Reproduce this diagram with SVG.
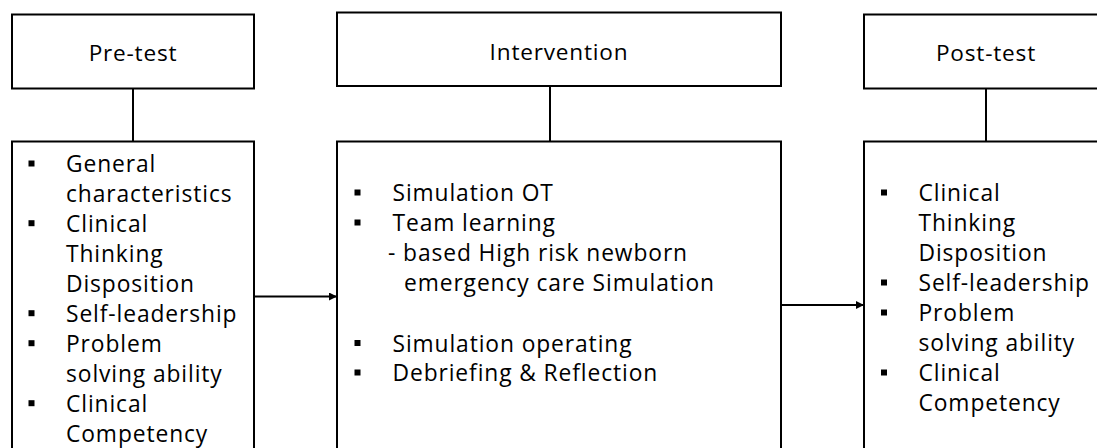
<svg xmlns="http://www.w3.org/2000/svg" width="1097" height="448" viewBox="0 0 1097 448">
  <defs>
    <style>
      .box { fill: #ffffff; stroke: #000000; stroke-width: 2; }
      .link { fill: none; stroke: #000000; stroke-width: 2; }
      .title { font-family: "Open Sans", "Liberation Sans", sans-serif; font-size: 22.6px; letter-spacing: 0.8px; fill: #000000; text-anchor: middle; }
      .item { font-family: "Open Sans", "Liberation Sans", sans-serif; font-size: 22.8px; letter-spacing: 0.9px; fill: #000000; }
      .dot { fill: #000000; }
    </style>
    <rect id="sq" class="dot" x="-3" y="-11.5" width="6" height="6"/>
    <marker id="arrow" viewBox="0 0 10 10" refX="10" refY="5" markerWidth="10" markerHeight="8" markerUnits="userSpaceOnUse" orient="auto">
      <path d="M0,0 L10,5 L0,10 Z" fill="#000000"/>
    </marker>
  </defs>

  <rect width="1097" height="448" fill="#ffffff"/>

  <!-- connectors -->
  <g id="connectors">
    <line class="link" x1="133" y1="88" x2="133" y2="142"/>
    <line class="link" x1="550" y1="86" x2="550" y2="142"/>
    <line class="link" x1="986" y1="88" x2="986" y2="142"/>
    <line class="link" x1="254" y1="296.5" x2="337" y2="296.5" marker-end="url(#arrow)"/>
    <line class="link" x1="781" y1="305" x2="864" y2="305" marker-end="url(#arrow)"/>
  </g>

  <!-- pre-test header -->
  <g id="pretest">
    <rect class="box" x="12" y="14.5" width="242" height="74"/>
    <text class="title" x="133" y="61">Pre-test</text>
  </g>

  <!-- intervention header -->
  <g id="intervention">
    <rect class="box" x="337" y="12.5" width="444" height="73.5"/>
    <text class="title" x="559" y="60">Intervention</text>
  </g>

  <!-- post-test header -->
  <g id="posttest">
    <rect class="box" x="864" y="14.5" width="244" height="74"/>
    <text class="title" x="986" y="61">Post-test</text>
  </g>

  <!-- pre-test measures -->
  <g id="pretest-items">
    <rect class="box" x="12" y="141.5" width="242" height="320"/>
    <use href="#sq" x="31.5" y="172"/>
    <use href="#sq" x="31.5" y="231.7"/>
    <use href="#sq" x="31.5" y="321.7"/>
    <use href="#sq" x="31.5" y="351.7"/>
    <use href="#sq" x="31.5" y="411.7"/>
    <text class="item" x="66" y="172">General</text>
    <text class="item" x="66" y="201.8">characteristics</text>
    <text class="item" x="66" y="231.7">Clinical</text>
    <text class="item" x="66" y="261.7">Thinking</text>
    <text class="item" x="66" y="291.7">Disposition</text>
    <text class="item" x="66" y="321.7">Self-leadership</text>
    <text class="item" x="66" y="351.7">Problem</text>
    <text class="item" x="66" y="381.7">solving ability</text>
    <text class="item" x="66" y="411.7">Clinical</text>
    <text class="item" x="66" y="441.5">Competency</text>
  </g>

  <!-- intervention program -->
  <g id="intervention-items">
    <rect class="box" x="337" y="141.5" width="444" height="320"/>
    <use href="#sq" x="357.5" y="201"/>
    <use href="#sq" x="357.5" y="231"/>
    <use href="#sq" x="357.5" y="351.5"/>
    <use href="#sq" x="357.5" y="381"/>
    <text class="item" x="392.5" y="201">Simulation OT</text>
    <text class="item" x="392.5" y="231">Team learning</text>
    <text class="item" x="388" y="261">- based High risk newborn</text>
    <text class="item" x="404" y="291">emergency care Simulation</text>
    <text class="item" x="392.5" y="351.5">Simulation operating</text>
    <text class="item" x="392.5" y="381">Debriefing &amp; Reflection</text>
  </g>

  <!-- post-test measures -->
  <g id="posttest-items">
    <rect class="box" x="864" y="141.5" width="244" height="320"/>
    <use href="#sq" x="884" y="201"/>
    <use href="#sq" x="884" y="291"/>
    <use href="#sq" x="884" y="321"/>
    <use href="#sq" x="884" y="381"/>
    <text class="item" x="918.5" y="201">Clinical</text>
    <text class="item" x="918.5" y="231">Thinking</text>
    <text class="item" x="918.5" y="261">Disposition</text>
    <text class="item" x="918.5" y="291">Self-leadership</text>
    <text class="item" x="918.5" y="321">Problem</text>
    <text class="item" x="918.5" y="351">solving ability</text>
    <text class="item" x="918.5" y="381">Clinical</text>
    <text class="item" x="918.5" y="411">Competency</text>
  </g>
</svg>
